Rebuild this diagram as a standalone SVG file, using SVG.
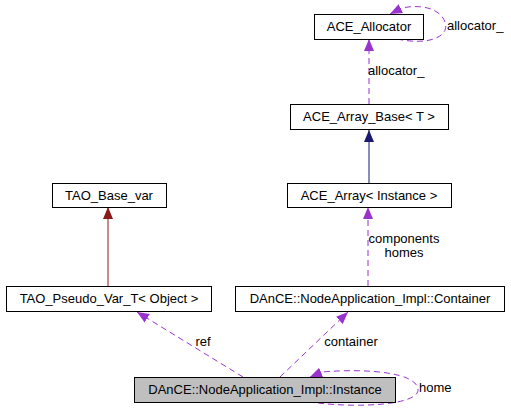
<svg xmlns="http://www.w3.org/2000/svg" width="511" height="415" viewBox="0 0 511 415">
<style>
.box{fill:#fff;stroke:#000;stroke-width:1}
.sel{fill:#bfbfbf;stroke:#000;stroke-width:1}
text{font-family:"Liberation Sans",Arial,sans-serif;font-size:13px;fill:#000}
.c{text-anchor:middle}
.use{fill:none;stroke:#9a32cd;stroke-width:1;stroke-dasharray:6,4}
.inh1{fill:none;stroke:#191970;stroke-width:1}
.inh2{fill:none;stroke:#8b1a1a;stroke-width:1}
</style>
<defs>
<marker id="ap" markerUnits="userSpaceOnUse" markerWidth="13" markerHeight="11" refX="12" refY="5" orient="auto" viewBox="0 0 13 10"><path d="M0,0 L12,5 L0,10 z" fill="#9a32cd"/></marker>
<marker id="an" markerUnits="userSpaceOnUse" markerWidth="13" markerHeight="11" refX="12" refY="5" orient="auto" viewBox="0 0 13 10"><path d="M0,0 L12,5 L0,10 z" fill="#191970"/></marker>
<marker id="ar" markerUnits="userSpaceOnUse" markerWidth="13" markerHeight="11" refX="12" refY="5" orient="auto" viewBox="0 0 13 10"><path d="M0,0 L12,5 L0,10 z" fill="#8b1a1a"/></marker>
</defs>
<g id="connectors">
<path class="use" d="M397,39 C430,46 450,36 445,22 C440,8 420,4 402,8 L390,14" marker-end="url(#ap)"/>
<path class="use" d="M369,104 L369,39" marker-end="url(#ap)"/>
<path class="inh1" d="M369,183 L369,130" marker-end="url(#an)"/>
<path class="inh2" d="M108,286 L108,207" marker-end="url(#ar)"/>
<path class="use" d="M368,286 L368,207" marker-end="url(#ap)"/>
<path class="use" d="M243,377 L137,312" marker-end="url(#ap)"/>
<path class="use" d="M280,377 L348,312" marker-end="url(#ap)"/>
<path class="use" d="M318,403 C360,408 420,405 418,389 C416,373 370,368 322,372 L310,377" marker-end="url(#ap)"/>
<text x="447" y="30">allocator_</text>
<text x="368" y="75">allocator_</text>
<text x="404" y="243" class="c">components</text>
<text x="404" y="257" class="c">homes</text>
<text x="203" y="346" class="c">ref</text>
<text x="351" y="346" class="c">container</text>
<text x="419" y="392">home</text>
</g>
<g id="ACE_Allocator"><rect class="box" x="314.5" y="14.5" width="109" height="25"/><text x="369" y="31" class="c">ACE_Allocator</text></g>
<g id="ACE_Array_Base"><rect class="box" x="290.5" y="104.5" width="158" height="25"/><text x="369" y="121" class="c">ACE_Array_Base&lt; T &gt;</text></g>
<g id="ACE_Array"><rect class="box" x="287.5" y="183.5" width="164" height="24"/><text x="369" y="200" class="c">ACE_Array&lt; Instance &gt;</text></g>
<g id="TAO_Base_var"><rect class="box" x="52.5" y="183.5" width="114" height="24"/><text x="109" y="200" class="c">TAO_Base_var</text></g>
<g id="TAO_Pseudo_Var_T"><rect class="box" x="6.5" y="286.5" width="205" height="25"/><text x="109" y="303" class="c">TAO_Pseudo_Var_T&lt; Object &gt;</text></g>
<g id="Container"><rect class="box" x="235.5" y="286.5" width="269" height="25"/><text x="370" y="303" class="c">DAnCE::NodeApplication_Impl::Container</text></g>
<g id="Instance"><rect class="sel" x="134.5" y="377.5" width="261" height="25"/><text x="265" y="394" class="c">DAnCE::NodeApplication_Impl::Instance</text></g>
</svg>
